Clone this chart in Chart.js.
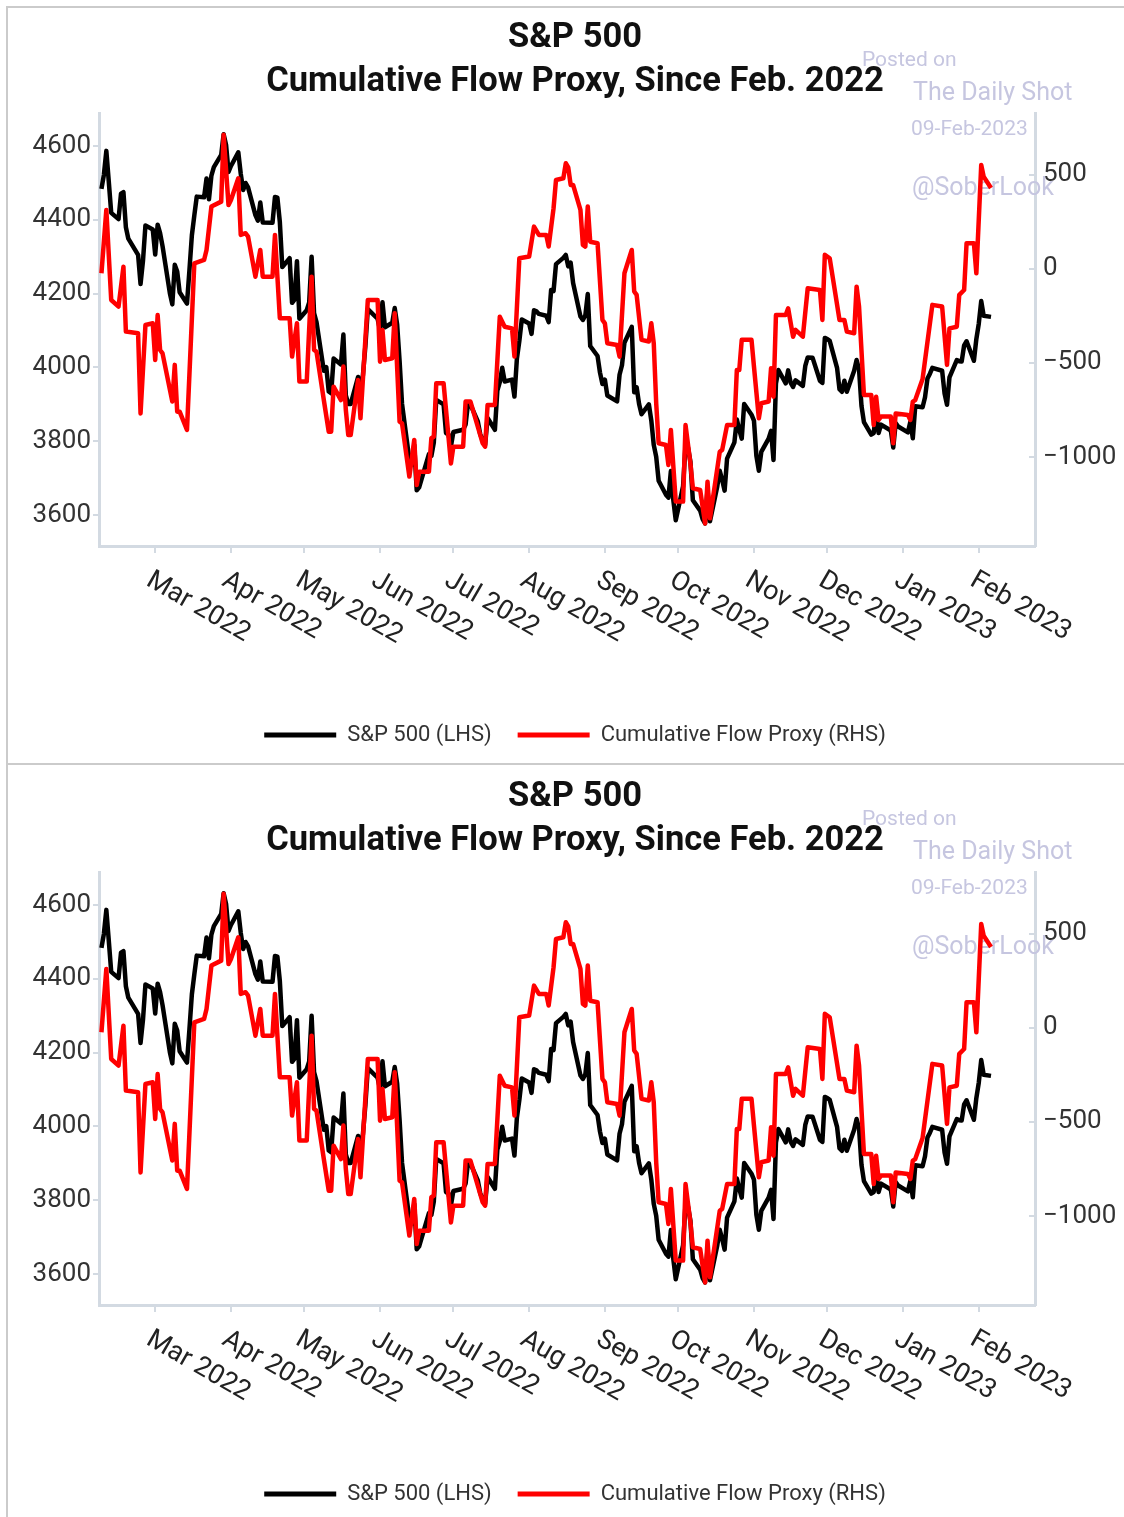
<!DOCTYPE html>
<html>
<head>
<meta charset="utf-8">
<script src="https://cdn.jsdelivr.net/npm/chart.js@4.4.0/dist/chart.umd.min.js"></script>
<style>
  html, body { margin: 0; padding: 0; background: #fff; overflow: hidden; width: 1124px; height: 1517px; }
  .panel { position: absolute; left: 6px; width: 1300px; border-left: 2px solid #cbcbcb; }
  #p1 { top: 6px; height: 755px; border-top: 2px solid #cbcbcb; border-bottom: 2px solid #cbcbcb; }
  #p2 { top: 765px; height: 800px; }
  canvas { position: absolute; left: 9px; }
  #c1 { top: 9px; }
  #c2 { top: 768px; }
</style>
</head>
<body>
<div class="panel" id="p1"></div>
<div class="panel" id="p2"></div>
<canvas id="c1" width="1132" height="754"></canvas>
<canvas id="c2" width="1132" height="754"></canvas>
<script>
// ---- data ----
var titleLines = ['S&P 500', 'Cumulative Flow Proxy, Since Feb. 2022'];

var spxDates = [
    '2022-02-07','2022-02-08','2022-02-09','2022-02-10','2022-02-11','2022-02-14','2022-02-15','2022-02-16','2022-02-17','2022-02-18','2022-02-22','2022-02-23','2022-02-24','2022-02-25','2022-02-28',
    '2022-03-01','2022-03-02','2022-03-03','2022-03-04','2022-03-07','2022-03-08','2022-03-09','2022-03-10','2022-03-11','2022-03-14','2022-03-15','2022-03-16','2022-03-17','2022-03-18','2022-03-21','2022-03-22','2022-03-23','2022-03-24','2022-03-25','2022-03-28','2022-03-29','2022-03-30','2022-03-31',
    '2022-04-01','2022-04-04','2022-04-05','2022-04-06','2022-04-07','2022-04-08','2022-04-11','2022-04-12','2022-04-13','2022-04-14','2022-04-18','2022-04-19','2022-04-20','2022-04-21','2022-04-22','2022-04-25','2022-04-26','2022-04-27','2022-04-28','2022-04-29',
    '2022-05-02','2022-05-03','2022-05-04','2022-05-05','2022-05-06','2022-05-09','2022-05-10','2022-05-11','2022-05-12','2022-05-13','2022-05-16','2022-05-17','2022-05-18','2022-05-19','2022-05-20','2022-05-23','2022-05-24','2022-05-25','2022-05-26','2022-05-27','2022-05-31',
    '2022-06-01','2022-06-02','2022-06-03','2022-06-06','2022-06-07','2022-06-08','2022-06-09','2022-06-10','2022-06-13','2022-06-14','2022-06-15','2022-06-16','2022-06-17','2022-06-21','2022-06-22','2022-06-23','2022-06-24','2022-06-27','2022-06-28','2022-06-29','2022-06-30',
    '2022-07-01','2022-07-05','2022-07-06','2022-07-07','2022-07-08','2022-07-11','2022-07-12','2022-07-13','2022-07-14','2022-07-15','2022-07-18','2022-07-19','2022-07-20','2022-07-21','2022-07-22','2022-07-25','2022-07-26','2022-07-27','2022-07-28','2022-07-29',
    '2022-08-01','2022-08-02','2022-08-03','2022-08-04','2022-08-05','2022-08-08','2022-08-09','2022-08-10','2022-08-11','2022-08-12','2022-08-15','2022-08-16','2022-08-17','2022-08-18','2022-08-19','2022-08-22','2022-08-23','2022-08-24','2022-08-25','2022-08-26','2022-08-29','2022-08-30','2022-08-31',
    '2022-09-01','2022-09-02','2022-09-06','2022-09-07','2022-09-08','2022-09-09','2022-09-12','2022-09-13','2022-09-14','2022-09-15','2022-09-16','2022-09-19','2022-09-20','2022-09-21','2022-09-22','2022-09-23','2022-09-26','2022-09-27','2022-09-28','2022-09-29','2022-09-30',
    '2022-10-03','2022-10-04','2022-10-05','2022-10-06','2022-10-07','2022-10-10','2022-10-11','2022-10-12','2022-10-13','2022-10-14','2022-10-17','2022-10-18','2022-10-19','2022-10-20','2022-10-21','2022-10-24','2022-10-25','2022-10-26','2022-10-27','2022-10-28','2022-10-31',
    '2022-11-01','2022-11-02','2022-11-03','2022-11-04','2022-11-07','2022-11-08','2022-11-09','2022-11-10','2022-11-11','2022-11-14','2022-11-15','2022-11-16','2022-11-17','2022-11-18','2022-11-21','2022-11-22','2022-11-23','2022-11-25','2022-11-28','2022-11-29','2022-11-30',
    '2022-12-01','2022-12-02','2022-12-05','2022-12-06','2022-12-07','2022-12-08','2022-12-09','2022-12-12','2022-12-13','2022-12-14','2022-12-15','2022-12-16','2022-12-19','2022-12-20','2022-12-21','2022-12-22','2022-12-23','2022-12-27','2022-12-28','2022-12-29','2022-12-30',
    '2023-01-03','2023-01-04','2023-01-05','2023-01-06','2023-01-09','2023-01-10','2023-01-11','2023-01-12','2023-01-13','2023-01-17','2023-01-18','2023-01-19','2023-01-20','2023-01-23','2023-01-24','2023-01-25','2023-01-26','2023-01-27','2023-01-30','2023-01-31',
    '2023-02-01','2023-02-02','2023-02-03','2023-02-06'
];
var spxValues = [
    4484,4522,4587,4504,4419,4402,4471,4475,4380,4349,4305,4226,4289,4385,4374,
    4306,4387,4364,4329,4201,4171,4278,4260,4204,4173,4263,4358,4412,4463,4461,4512,4456,4520,4543,4576,4632,4603,4530,
    4546,4583,4525,4481,4500,4488,4413,4398,4447,4393,4392,4462,4460,4394,4272,4296,4175,4184,4288,4132,
    4155,4176,4300,4147,4123,3991,4001,3935,3930,4024,4008,4089,3924,3901,3901,3974,3942,3979,4058,4158,4132,
    4101,4177,4109,4121,4161,4116,4018,3901,3750,3736,3790,3667,3675,3765,3760,3796,3912,3900,3822,3819,3785,
    3825,3831,3845,3903,3899,3854,3819,3802,3790,3863,3831,3937,3960,3999,3962,3967,3921,4024,4072,4130,
    4119,4091,4155,4152,4145,4140,4123,4210,4207,4280,4297,4305,4274,4284,4229,4138,4129,4141,4199,4058,4031,3986,3955,
    3967,3924,3908,3980,4006,4067,4110,3933,3946,3901,3873,3900,3856,3790,3758,3693,3655,3647,3719,3641,3586,
    3678,3791,3783,3745,3640,3612,3589,3577,3670,3583,3678,3720,3695,3666,3753,3797,3859,3831,3807,3901,3872,
    3856,3760,3720,3771,3807,3828,3749,3956,3993,3957,3992,3959,3947,3965,3950,4004,4027,4026,3964,3958,4080,
    4077,4072,3999,3941,3934,3964,3934,3991,4020,3995,3896,3852,3818,3822,3878,3822,3845,3829,3783,3849,3840,
    3824,3853,3808,3895,3892,3919,3970,3983,3999,3991,3929,3899,3973,4020,4017,4016,4060,4071,4018,4077,
    4119,4180,4140,4137
];

var flowDates = [
    '2022-02-07','2022-02-09','2022-02-11','2022-02-14','2022-02-16','2022-02-17','2022-02-22','2022-02-23','2022-02-25','2022-02-28',
    '2022-03-01','2022-03-02','2022-03-03','2022-03-04','2022-03-08','2022-03-09','2022-03-10','2022-03-11','2022-03-14','2022-03-17','2022-03-21','2022-03-22','2022-03-24','2022-03-28','2022-03-29','2022-03-31',
    '2022-04-01','2022-04-04','2022-04-05','2022-04-07','2022-04-08','2022-04-11','2022-04-13','2022-04-14','2022-04-18','2022-04-19','2022-04-21','2022-04-25','2022-04-26','2022-04-28','2022-04-29',
    '2022-05-02','2022-05-04','2022-05-05','2022-05-06','2022-05-09','2022-05-11','2022-05-12','2022-05-13','2022-05-16','2022-05-17','2022-05-18','2022-05-19','2022-05-20','2022-05-23','2022-05-24','2022-05-27','2022-05-31',
    '2022-06-01','2022-06-02','2022-06-03','2022-06-06','2022-06-07','2022-06-09','2022-06-10','2022-06-13','2022-06-15','2022-06-16','2022-06-17','2022-06-21','2022-06-22','2022-06-23','2022-06-24','2022-06-27','2022-06-30',
    '2022-07-01','2022-07-05','2022-07-06','2022-07-08','2022-07-13','2022-07-14','2022-07-15','2022-07-18','2022-07-20','2022-07-22','2022-07-25','2022-07-26','2022-07-28',
    '2022-08-01','2022-08-03','2022-08-05','2022-08-08','2022-08-09','2022-08-11','2022-08-12','2022-08-15','2022-08-16','2022-08-17','2022-08-18','2022-08-19','2022-08-22','2022-08-23','2022-08-24','2022-08-25','2022-08-26','2022-08-29','2022-08-31',
    '2022-09-01','2022-09-02','2022-09-06','2022-09-07','2022-09-09','2022-09-12','2022-09-13','2022-09-14','2022-09-16','2022-09-19','2022-09-20','2022-09-21','2022-09-22','2022-09-23','2022-09-26','2022-09-27','2022-09-28','2022-09-30',
    '2022-10-03','2022-10-04','2022-10-06','2022-10-07','2022-10-10','2022-10-12','2022-10-13','2022-10-14','2022-10-18','2022-10-19','2022-10-21','2022-10-24','2022-10-25','2022-10-26','2022-10-27','2022-10-31',
    '2022-11-01','2022-11-03','2022-11-04','2022-11-07','2022-11-08','2022-11-09','2022-11-10','2022-11-14','2022-11-15','2022-11-17','2022-11-18','2022-11-21','2022-11-23','2022-11-28','2022-11-29','2022-11-30',
    '2022-12-02','2022-12-06','2022-12-08','2022-12-09','2022-12-12','2022-12-13','2022-12-14','2022-12-16','2022-12-19','2022-12-20','2022-12-21','2022-12-22','2022-12-23','2022-12-27','2022-12-28','2022-12-29',
    '2023-01-03','2023-01-04','2023-01-05','2023-01-06','2023-01-09','2023-01-13','2023-01-17','2023-01-19','2023-01-20','2023-01-23','2023-01-24','2023-01-26','2023-01-27','2023-01-30','2023-01-31',
    '2023-02-02','2023-02-03','2023-02-06'
];
var flowValues = [
    -23,314,-165,-200,12,-333,-342,-768,-298,-289,
    -484,-245,-431,-449,-705,-510,-759,-759,-856,30,48,101,332,358,713,340,
    367,482,181,190,172,-41,101,-41,-41,181,-262,-262,-466,-289,-599,
    -599,-41,-431,-440,-697,-865,-865,-626,-697,-519,-750,-883,-883,-590,-794,-165,-165,
    -493,-324,-484,-475,-236,-812,-821,-1104,-909,-1149,-1078,-1078,-900,-892,-608,-608,-1034,
    -945,-945,-705,-705,-927,-945,-723,-723,-254,-307,-316,-466,57,
    66,225,181,181,119,323,473,482,562,540,447,447,314,128,119,332,145,137,-271,
    -289,-395,-404,-466,-23,101,-120,-138,-377,-386,-289,-395,-714,-927,-936,-1042,-856,-1237,
    -1237,-830,-1034,-1166,-1175,-1353,-1131,-1326,-972,-962,-830,-830,-537,-537,-377,-377,
    -519,-794,-714,-705,-528,-679,-245,-245,-209,-360,-324,-360,-103,-112,-271,75,
    57,-271,-271,-333,-342,-94,-200,-670,-670,-830,-679,-803,-785,-785,-927,-768,
    -777,-803,-705,-697,-585,-191,-200,-510,-316,-307,-138,-112,137,137,-23,
    553,491,430
];

var monthTicks = ['2022-03-01','2022-04-01','2022-05-01','2022-06-01','2022-07-01','2022-08-01','2022-09-01','2022-10-01','2022-11-01','2022-12-01','2023-01-01','2023-02-01'];
var monthLabels = ['Mar 2022','Apr 2022','May 2022','Jun 2022','Jul 2022','Aug 2022','Sep 2022','Oct 2022','Nov 2022','Dec 2022','Jan 2023','Feb 2023'];
var spxTicks = [3600, 3800, 4000, 4200, 4400, 4600];
var flowTicks = [-1000, -500, 0, 500];

var xMin = '2022-02-06', xMax = '2023-02-24';

function dayNum(s) {
    var p = s.split('-').map(Number);
    return Date.UTC(p[0], p[1] - 1, p[2]) / 86400000;
}

var axisColor = '#d3dae2';
var fontFamily = 'Roboto';

// month labels slant down to the right from each tick
var monthLabelPlugin = {
    id: 'monthLabels',
    afterDraw: function(chart) {
        var sx = chart.scales.x;
        var ctx = chart.ctx;
        ctx.save();
        ctx.font = '27px ' + fontFamily;
        ctx.fillStyle = '#222';
        ctx.textAlign = 'left';
        ctx.textBaseline = 'top';
        monthTicks.forEach(function(d, i) {
            var px = sx.getPixelForValue(dayNum(d));
            ctx.save();
            ctx.translate(px, sx.top + 21);
            ctx.rotate(Math.PI / 6);
            ctx.fillText(monthLabels[i], 0, 0);
            ctx.restore();
        });
        ctx.restore();
    }
};

var watermarkPlugin = {
    id: 'watermark',
    beforeDatasetsDraw: function(chart) {
        var ctx = chart.ctx;
        ctx.save();
        ctx.fillStyle = '#c6c6e0';
        ctx.textAlign = 'left';
        ctx.textBaseline = 'alphabetic';
        ctx.font = '21px ' + fontFamily;
        ctx.fillText('Posted on', 853, 57);
        ctx.font = '25px ' + fontFamily;
        ctx.fillText('The Daily Shot', 904, 91);
        ctx.font = '21px ' + fontFamily;
        ctx.fillText('09-Feb-2023', 902, 126);
        ctx.font = '25px ' + fontFamily;
        ctx.fillText('@SoberLook', 903, 186);
        ctx.restore();
    }
};

function buildChart(canvasId) {
    var ctx = document.getElementById(canvasId).getContext('2d');

    return new Chart(ctx, {
        type: 'line',
        data: {
            datasets: [{
                label: 'S&P 500 (LHS)',
                data: spxDates.map((d, i) => ({ x: dayNum(d), y: spxValues[i] })),
                borderColor: '#000000',
                backgroundColor: '#000000',
                borderWidth: 4.5,
                borderJoinStyle: 'round',
                pointRadius: 0,
                tension: 0,
                yAxisID: 'y',
                order: 1
            }, {
                label: 'Cumulative Flow Proxy (RHS)',
                data: flowDates.map((d, i) => ({ x: dayNum(d), y: flowValues[i] })),
                borderColor: '#ff0000',
                backgroundColor: '#ff0000',
                borderWidth: 4.5,
                borderJoinStyle: 'round',
                pointRadius: 0,
                tension: 0,
                yAxisID: 'y1',
                order: 0
            }]
        },
        options: {
            responsive: false,
            animation: false,
            layout: {
                padding: { left: 0, right: 0, top: 0, bottom: 7 }
            },
            scales: {
                x: {
                    type: 'linear',
                    min: dayNum(xMin),
                    max: dayNum(xMax),
                    afterBuildTicks: function(scale) {
                        scale.ticks = monthTicks.map(d => ({ value: dayNum(d) }));
                    },
                    afterFit: function(scale) { scale.height = 152; },
                    ticks: { display: false },
                    grid: { drawOnChartArea: false, drawTicks: true, tickLength: 7, color: axisColor, lineWidth: 2 },
                    border: { color: axisColor, width: 3 }
                },
                y: {
                    position: 'left',
                    min: 3516,
                    max: 4687,
                    afterBuildTicks: function(scale) {
                        scale.ticks = spxTicks.map(v => ({ value: v }));
                    },
                    afterFit: function(scale) { scale.width = 90; },
                    ticks: {
                        font: { family: fontFamily, size: 26 },
                        color: '#333',
                        padding: 2,
                        callback: function(value) { return String(value); }
                    },
                    grid: { drawOnChartArea: false, drawTicks: true, tickLength: 6, color: axisColor, lineWidth: 2 },
                    border: { color: axisColor, width: 3 }
                },
                y1: {
                    position: 'right',
                    min: -1473,
                    max: 824,
                    afterBuildTicks: function(scale) {
                        scale.ticks = flowTicks.map(v => ({ value: v }));
                    },
                    afterFit: function(scale) { scale.width = 106; },
                    ticks: {
                        font: { family: fontFamily, size: 26 },
                        color: '#333',
                        padding: 14,
                        callback: function(value) {
                            return value < 0 ? '\u2212' + Math.abs(value) : String(value);
                        }
                    },
                    grid: { drawOnChartArea: false, drawTicks: true, tickLength: -6, color: axisColor, lineWidth: 2 },
                    border: { color: axisColor, width: 3 }
                }
            },
            plugins: {
                title: {
                    display: true,
                    text: titleLines,
                    color: '#111',
                    font: { family: fontFamily, size: 34.5, weight: 'bold', lineHeight: 1.275 },
                    padding: { top: 7, bottom: 10 }
                },
                legend: {
                    position: 'bottom',
                    labels: {
                        boxWidth: 72,
                        boxHeight: 5,
                        padding: 26,
                        color: '#333',
                        font: { family: fontFamily, size: 22 },
                        sort: function(a, b) { return a.datasetIndex - b.datasetIndex; },
                        generateLabels: function(chart) {
                            var items = Chart.defaults.plugins.legend.labels.generateLabels(chart);
                            items.forEach(function(item) { item.lineWidth = 0; });
                            return items;
                        }
                    }
                },
                tooltip: { enabled: false }
            }
        },
        plugins: [monthLabelPlugin, watermarkPlugin]
    });
}

buildChart('c1');
buildChart('c2');
</script>
</body>
</html>
